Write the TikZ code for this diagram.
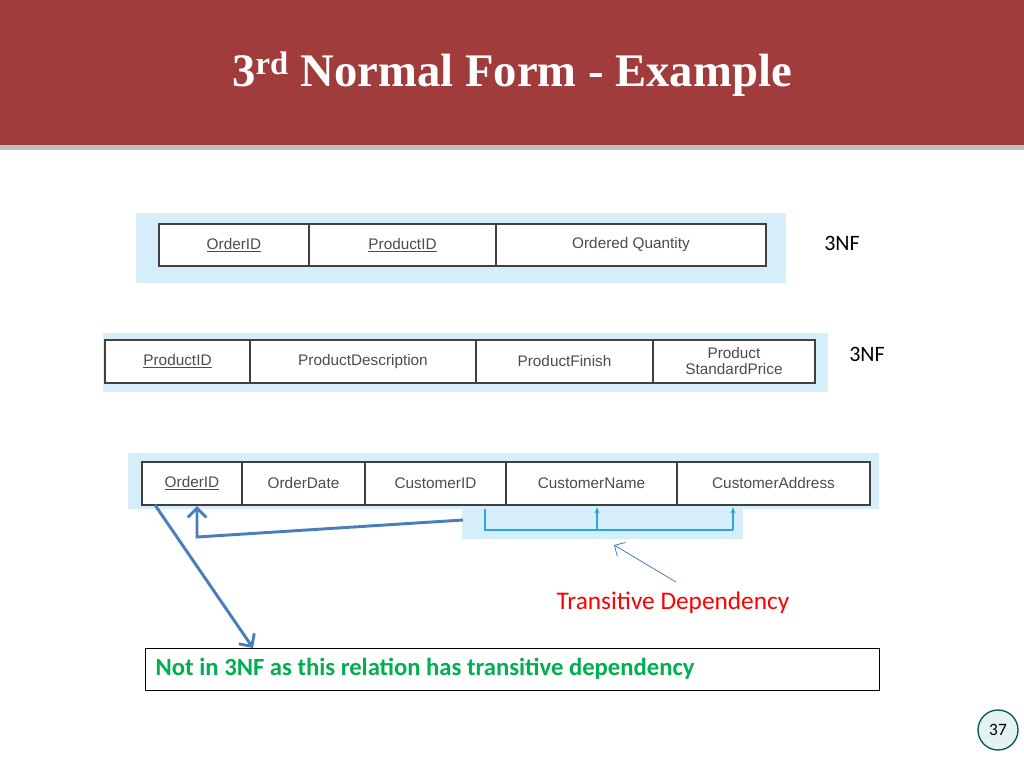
\documentclass[tikz,border=0pt]{standalone}
\usepackage{fontspec}
\setmainfont{Liberation Serif}
\newfontfamily\arialf{Liberation Sans}
\newfontfamily\calf{Carlito}
\usetikzlibrary{arrows.meta}
\definecolor{titlered}{HTML}{A03C3C}
\definecolor{palebl}{HTML}{D6EEFA}
\definecolor{linkbl}{HTML}{4A7EBB}
\definecolor{cyanln}{HTML}{29A8DF}
\definecolor{keygreen}{HTML}{00B050}
\tikzset{
    cell/.style={draw=black!75, line width=0.8pt, fill=white},
    celltext/.style={font=\arialf\fontsize{11.5}{12}\selectfont, text=black!70, align=center},
    nflabel/.style={font=\calf\fontsize{16.5}{18}\selectfont},
    pics/relation/.style args={#1/#2}{
        code={
            \foreach \xa/\xb/\txt/\key in {#1} {
                \draw[cell] (\xa,0) rectangle (\xb,#2);
                \node[celltext] at ({(\xa+\xb)/2},{#2/2}) {\ifnum\key=1 \underline{\txt}\else\txt\fi};
            }
        }
    }
}
\begin{document}
\begin{tikzpicture}[x=0.75pt,y=-0.75pt]
  \useasboundingbox (0,0) rectangle (1024,768);
  \fill[white] (0,0) rectangle (1024,768);
  % title bar
  \fill[black!25] (0,4) rectangle (1024,150);
  \fill[titlered] (0,0) rectangle (1024,145);
  \node (title) at (512,74) {\color{white}\bfseries\fontsize{35}{40}\selectfont 3\textsuperscript{rd} Normal Form - Example};

  % first relation
  \fill[palebl] (136,213) rectangle (786,283);
  \pic[shift={(0,224)}]{relation={159/309/OrderID/1,309/496/ProductID/1,496/766/Ordered Quantity/0}/42};
  \node[nflabel] (nfa) at (842,243) {3NF};

  % second relation
  \fill[palebl] (103,333) rectangle (828,392);
  \pic[shift={(0,340)}]{relation={105/250/ProductID/1,250/476/ProductDescription/0,476/653/ProductFinish/0,653/815/{Product\\StandardPrice}/0}/43};
  \node[nflabel] (nfb) at (867,354) {3NF};

  % third relation
  \fill[palebl] (128,453) rectangle (879,509);
  \fill[palebl] (462,505) rectangle (743,539);
  \pic[shift={(0,462)}]{relation={142/242/OrderID/1,242/365/OrderDate/0,365/506/CustomerID/0,506/677/CustomerName/0,677/870/CustomerAddress/0}/43};
  \coordinate (brA) at (485,509);
  \coordinate (brB) at (485,530);
  \coordinate (brC) at (733,530);
  \coordinate (brM) at (597,530);
  \draw[cyanln, line width=0.8pt] (brA) -- (brB) -- (brC);
  \draw[cyanln, line width=0.8pt, -{Stealth[length=5pt]}] (brM) -- (597,507);
  \draw[cyanln, line width=0.8pt, -{Stealth[length=5pt]}] (brC) -- (733,507);

  % dependency arrows
  \coordinate (depS) at (463,520);
  \coordinate (depK) at (197,537);
  \coordinate (oid) at (197,506);
  \draw[linkbl, line width=2.2pt, -{Straight Barb[length=7pt]}] (depS) -- (depK) -- (oid);
  \coordinate (oidL) at (155,505);
  \node[draw=black, line width=0.8pt, minimum width=734*0.75pt, minimum height=42*0.75pt, anchor=north west, inner sep=0pt] (note) at (145,648) {};
  \node[anchor=west, font=\calf\bfseries\fontsize{18.5}{20}\selectfont, text=keygreen] (notetxt) at (151,669) {Not in 3NF as this relation has transitive dependency};
  \draw[linkbl, line width=2.2pt, -{Straight Barb[length=7pt]}] (oidL) -- (253,648);

  \node[font=\calf\fontsize{19}{21}\selectfont, text=red] (trans) at (673,603) {Transitive Dependency};
  \draw[linkbl, line width=0.6pt, -{Straight Barb[length=6pt]}] (676,582) -- (614,545);

  % page number
  \node[circle, draw=teal!70!black, line width=1pt, fill=teal!10, minimum size=30pt, font=\calf\fontsize{13}{14}\selectfont] (page) at (998,730) {37};
\end{tikzpicture}
\end{document}
